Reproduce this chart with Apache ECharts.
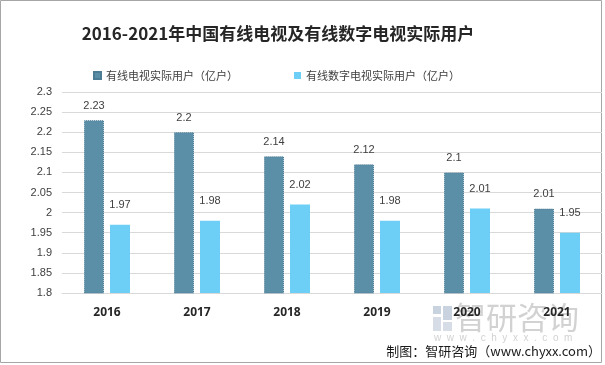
<!DOCTYPE html>
<html>
<head>
<meta charset="utf-8">
<script src="https://cdn.jsdelivr.net/npm/echarts@6/dist/echarts.min.js"></script>
<style>html,body{margin:0;padding:0;background:#fff;}#c{width:605px;height:365px;}</style>
</head>
<body>
<div id="c"></div>
<script>
var titleText = '2016-2021年中国有线电视及有线数字电视实际用户';
var categories = ['2016', '2017', '2018', '2019', '2020', '2021'];
var seriesNames = ['有线电视实际用户（亿户）', '有线数字电视实际用户（亿户）'];
var cableUsers = [2.23, 2.2, 2.14, 2.12, 2.1, 2.01];
var digitalUsers = [1.97, 1.98, 2.02, 1.98, 2.01, 1.95];
var yMin = 1.8, yMax = 2.3, yStep = 0.05;
var sourceText = '制图：智研咨询（www.chyxx.com）';

var cjk = '"Noto Sans CJK SC", "Noto Sans", sans-serif';
var chart = echarts.init(document.getElementById('c'));
chart.setOption({
  animation: false,
  backgroundColor: '#fff',
  legend: {
    data: seriesNames, orient: 'horizontal',
    left: 88, top: 65, width: 500,
    itemWidth: 7, itemHeight: 7, itemGap: 56, icon: 'rect',
    textStyle: { fontFamily: cjk, fontSize: 11, color: '#404040' }
  },
  grid: { left: 62, right: 3, top: 92, bottom: 72, containLabel: false },
  xAxis: {
    type: 'category', data: categories,
    axisLine: { show: true, lineStyle: { color: '#d9d9d9' } },
    axisTick: { show: false },
    axisLabel: { margin: 14, fontFamily: '"Noto Sans", sans-serif', fontSize: 12, fontWeight: 'bold', color: '#262626' }
  },
  yAxis: {
    type: 'value', min: yMin, max: yMax, interval: yStep,
    axisLine: { show: false }, axisTick: { show: false },
    splitLine: { lineStyle: { color: '#d9d9d9' } },
    axisLabel: {
      margin: 10, fontFamily: '"Liberation Sans", sans-serif', fontSize: 11, color: '#404040',
      formatter: function (v) { return String(+v.toFixed(2)); }
    }
  },
  series: [
    {
      name: seriesNames[0], type: 'bar', data: cableUsers, barWidth: 20, barGap: '30%',
      itemStyle: { color: '#5B8FA8', borderColor: '#4d7d94', borderWidth: 1, borderType: 'dotted' },
      label: { show: true, position: 'top', distance: 9, fontFamily: '"Liberation Sans", sans-serif', fontSize: 11, color: '#404040' }
    },
    {
      name: seriesNames[1], type: 'bar', data: digitalUsers, barWidth: 20,
      itemStyle: { color: '#6DCFF6' },
      label: { show: true, position: 'top', distance: 14, fontFamily: '"Liberation Sans", sans-serif', fontSize: 11, color: '#404040' }
    }
  ],
  graphic: [
    { type: 'text', x: 278, y: 34,
      style: { text: titleText, fontFamily: cjk, fontSize: 17, fontWeight: 'bold', fill: '#262626',
               align: 'center', verticalAlign: 'middle' } },
    { type: 'rect', z: -10, silent: true, shape: { x: 433, y: 306, width: 8, height: 8 }, style: { fill: '#c9d3df' } },
    { type: 'rect', z: -10, silent: true, shape: { x: 443, y: 306, width: 9, height: 14 }, style: { fill: '#c9d3df' } },
    { type: 'rect', z: -10, silent: true, shape: { x: 433, y: 317, width: 8, height: 14 }, style: { fill: '#d6dde6' } },
    { type: 'rect', z: -10, silent: true, shape: { x: 443, y: 322, width: 9, height: 9 }, style: { fill: '#d6dde6' } },
    { type: 'text', z: -10, silent: true, left: 455, top: 302,
      style: { text: '智研咨询', fontFamily: cjk, fontSize: 31, fill: '#d2d2d2' } },
    { type: 'text', z: -10, silent: true, left: 434, top: 333,
      style: { text: 'w  w  w  .  c  h  y  x  x  .  c  o  m', fontFamily: '"Liberation Sans", sans-serif', fontSize: 10, fill: '#d2d2d2' } },
    { type: 'text', right: 4, top: 345,
      style: { text: sourceText, fontFamily: cjk, fontSize: 13, fill: '#1a1a1a' } },
    { type: 'rect', silent: true, shape: { x: 0.5, y: 0.5, width: 601, height: 362 },
      style: { fill: 'none', stroke: '#a6a6a6', lineWidth: 1 } }
  ]
});
</script>
</body>
</html>
